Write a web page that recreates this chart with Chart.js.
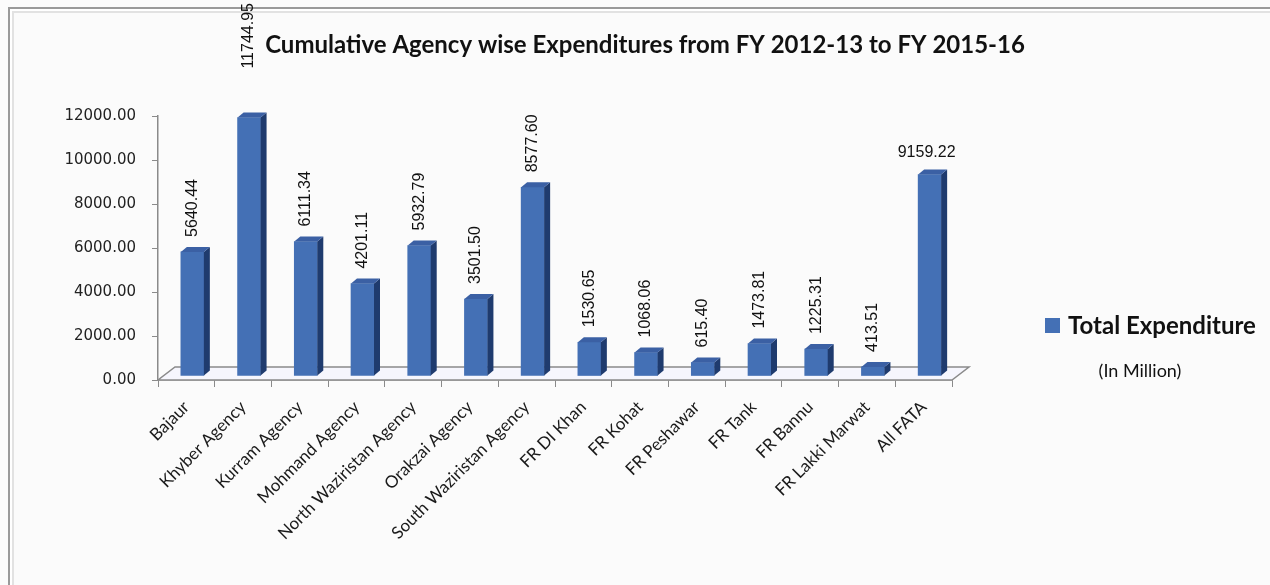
<!DOCTYPE html>
<html>
<head>
<meta charset="utf-8">
<script src="https://cdn.jsdelivr.net/npm/chart.js@4/dist/chart.umd.min.js"></script>
<style>
  html, body { margin: 0; padding: 0; background: #fbfbfb; }
  #wrap { position: relative; width: 1270px; height: 585px; overflow: hidden; }
  #frame {
    position: absolute; left: 8px; top: 7px; right: -10px; bottom: -10px;
    border-top: 2px solid #9a9a9a; border-left: 2px solid #9a9a9a;
    box-shadow: inset 2px 2px 0 #fff, inset 4px 4px 0 #e2e2e2;
  }
  canvas { position: absolute; left: 0; top: 0; }
</style>
</head>
<body>
<div id="wrap">
  <div id="frame"></div>
  <canvas id="c" width="1270" height="585"></canvas>
</div>
<script>
// Agencies / frontier regions and cumulative spending (Rs. million)
const categories = [
  'Bajaur', 'Khyber Agency', 'Kurram Agency', 'Mohmand Agency',
  'North Waziristan Agency', 'Orakzai Agency', 'South Waziristan Agency',
  'FR DI Khan', 'FR Kohat', 'FR Peshawar', 'FR Tank', 'FR Bannu',
  'FR Lakki Marwat', 'All FATA'
];
const totalExpenditure = [
  5640.44, 11744.95, 6111.34, 4201.11, 5932.79, 3501.50, 8577.60,
  1530.65, 1068.06, 615.40, 1473.81, 1225.31, 413.51, 9159.22
];
const yTicks = [0, 2000, 4000, 6000, 8000, 10000, 12000];
const horizontalLabelCategories = ['All FATA'];

const seriesName = 'Total Expenditure';
const unitNote = '(In Million)';
const chartTitle = 'Cumulative Agency wise Expenditures from FY 2012-13 to FY 2015-16';

const FRONT = '#4470b5', SIDE = '#1f3b6e', TOP = '#3b60a4';
const SHIFT_X = 6, SHIFT_Y = -4;   // bars stand half-way back on the floor
const DEPTH_X = 6, DEPTH_Y = 5;    // bar depth
const FLOOR_X = 17, FLOOR_Y = 13;  // floor depth
// the tallest bar's label was dragged up towards the top edge
const labelLift = { 'Khyber Agency': 34 };

const threeD = {
  id: 'threeD',
  beforeDatasetsDraw(chart) {
    const { ctx, chartArea: a } = chart;
    ctx.save();
    ctx.beginPath();
    ctx.moveTo(a.left, a.bottom);
    ctx.lineTo(a.right, a.bottom);
    ctx.lineTo(a.right + FLOOR_X, a.bottom - FLOOR_Y);
    ctx.lineTo(a.left + FLOOR_X, a.bottom - FLOOR_Y);
    ctx.closePath();
    ctx.fillStyle = '#f6f6fd';
    ctx.fill();
    ctx.strokeStyle = '#8a8a8a';
    ctx.lineWidth = 1.5;
    ctx.stroke();
    ctx.restore();
  },
  beforeDatasetDraw(chart) {
    chart.ctx.save();
    chart.ctx.translate(SHIFT_X, SHIFT_Y);
  },
  afterDatasetDraw(chart, args) {
    const ctx = chart.ctx;
    args.meta.data.forEach(bar => {
      const p = bar.getProps(['x', 'y', 'base', 'width'], true);
      const l = p.x - p.width / 2, r = p.x + p.width / 2;
      ctx.beginPath();
      ctx.moveTo(r, p.y);
      ctx.lineTo(r + DEPTH_X, p.y - DEPTH_Y);
      ctx.lineTo(r + DEPTH_X, p.base - DEPTH_Y);
      ctx.lineTo(r, p.base);
      ctx.closePath();
      ctx.fillStyle = SIDE;
      ctx.fill();
      ctx.beginPath();
      ctx.moveTo(l, p.y);
      ctx.lineTo(l + DEPTH_X, p.y - DEPTH_Y);
      ctx.lineTo(r + DEPTH_X, p.y - DEPTH_Y);
      ctx.lineTo(r, p.y);
      ctx.closePath();
      ctx.fillStyle = TOP;
      ctx.fill();
    });
    ctx.restore();
  },
  afterDatasetsDraw(chart) {
    const ctx = chart.ctx;
    const meta = chart.getDatasetMeta(0);
    ctx.save();
    ctx.fillStyle = '#111';
    ctx.font = '16px "Liberation Sans", Arial, sans-serif';
    meta.data.forEach((bar, i) => {
      const v = totalExpenditure[i];
      const text = v.toFixed(2);
      const x = bar.x + SHIFT_X;
      const top = bar.y + SHIFT_Y - (labelLift[categories[i]] || 0);
      if (horizontalLabelCategories.includes(categories[i])) {
        ctx.textAlign = 'center';
        ctx.textBaseline = 'alphabetic';
        ctx.fillText(text, x - 3, top - 17);
      } else {
        ctx.save();
        ctx.translate(x, top - 15);
        ctx.rotate(-Math.PI / 2);
        ctx.textAlign = 'left';
        ctx.textBaseline = 'middle';
        ctx.fillText(text, 0, 0);
        ctx.restore();
      }
    });
    ctx.restore();
  },
  afterDraw(chart) {
    const ctx = chart.ctx;
    ctx.save();
    ctx.fillStyle = '#111';
    ctx.textAlign = 'center';
    ctx.textBaseline = 'middle';
    ctx.font = 'bold 24px Lato, "Liberation Sans", sans-serif';
    ctx.fillText(chartTitle, 645, 45);

    // legend
    ctx.fillStyle = FRONT;
    ctx.fillRect(1045, 318, 15, 15);
    ctx.fillStyle = '#111';
    ctx.textAlign = 'left';
    ctx.font = 'bold 24px Lato, "Liberation Sans", sans-serif';
    ctx.fillText(seriesName, 1068, 326);
    ctx.textAlign = 'center';
    ctx.font = '18px Lato, "Liberation Sans", sans-serif';
    ctx.fillText(unitNote, 1140, 371);
    ctx.restore();
  }
};

new Chart(document.getElementById('c'), {
  type: 'bar',
  data: {
    labels: categories,
    datasets: [{
      label: seriesName,
      data: totalExpenditure,
      backgroundColor: FRONT,
      borderWidth: 0,
      barThickness: 23
    }]
  },
  options: {
    responsive: false,
    devicePixelRatio: 1,
    animation: false,
    layout: { padding: { left: 8, top: 116, right: 318, bottom: 0 } },
    plugins: {
      legend: { display: false },
      tooltip: { enabled: false }
    },
    scales: {
      x: {
        afterFit(s) { s.height = 205; },
        grid: { drawOnChartArea: false, drawTicks: true, tickLength: 7, color: '#8a8a8a', offset: true },
        border: { display: true, color: '#8a8a8a', width: 1.5 },
        ticks: {
          minRotation: 45, maxRotation: 45, autoSkip: false, padding: 10,
          color: '#1a1a1a',
          font: { family: 'Lato, "Liberation Sans", sans-serif', size: 17 }
        }
      },
      y: {
        min: 0, max: 12000,
        afterFit(s) { s.width = 150; },
        afterBuildTicks(s) { s.ticks = yTicks.map(v => ({ value: v })); },
        grid: { drawOnChartArea: false, drawTicks: true, tickLength: 6, color: '#8a8a8a' },
        border: { display: true, color: '#8a8a8a', width: 1.5 },
        ticks: {
          padding: 16, color: '#222',
          font: { family: '"DejaVu Sans", sans-serif', size: 15 },
          callback: v => Number(v).toFixed(2)
        }
      }
    }
  },
  plugins: [threeD]
});
</script>
</body>
</html>
